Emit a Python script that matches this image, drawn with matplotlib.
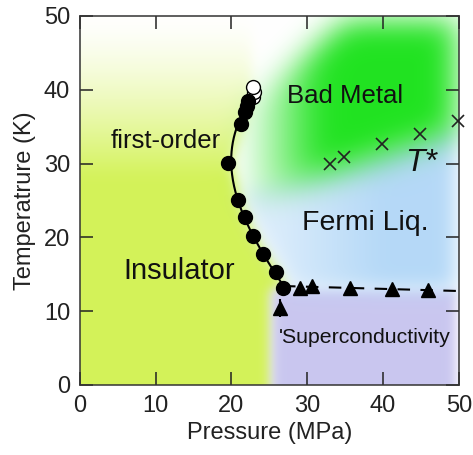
import numpy as np
import matplotlib
matplotlib.use("Agg")
import matplotlib.pyplot as plt

plt.rcParams["font.family"] = ["Liberation Sans", "DejaVu Sans"]

# ---- data (pressure in MPa, temperature in K) ----
first_order_P = [26.8, 25.9, 24.2, 22.8, 21.8, 20.8, 19.6, 21.3, 21.8, 22.0, 22.2]
first_order_T = [13.2, 15.3, 17.8, 20.2, 22.7, 25.0, 30.1, 35.3, 37.0, 37.8, 38.5]
open_P = [22.9, 23.0, 22.8]
open_T = [39.0, 39.7, 40.4]
tc_P = [26.4, 29.0, 30.6, 35.6, 41.2, 45.9]
tc_T = [10.4, 13.2, 13.4, 13.2, 13.0, 12.8]
tc_err = [1.2, 0, 0, 0, 0, 0]
tstar_P = [33.0, 34.8, 39.8, 44.9, 49.9]
tstar_T = [30.0, 30.9, 32.6, 34.0, 35.8]
x_ticks = [0, 10, 20, 30, 40, 50]
y_ticks = [0, 10, 20, 30, 40, 50]

fig = plt.figure(figsize=(4.73, 4.55), dpi=100)
ax = fig.add_axes([0.169, 0.154, 0.801, 0.811])

# ---- soft coloured phase regions ----
step = 0.1
g = np.arange(-5, 55 + step / 2, step)
PP, TT = np.meshgrid(g, g)


def blur(a, sigma):
    s = sigma / step
    r = int(3 * s) + 1
    k = np.exp(-0.5 * (np.arange(-r, r + 1) / s) ** 2)
    k /= k.sum()
    a = np.apply_along_axis(lambda m: np.convolve(m, k, mode="same"), 0, a)
    a = np.apply_along_axis(lambda m: np.convolve(m, k, mode="same"), 1, a)
    return a


order = np.argsort(first_order_T)
curve_P = np.interp(TT, np.array(first_order_T)[order], np.array(first_order_P)[order])
lower_green = 28.5 + 0.34 * (PP - 33.0)
upper_green = np.minimum(38.0 + 0.92 * (PP - 22.8), 49.3)

yellow_edge = np.where(TT < 12.8, 25.3, curve_P + 0.4)
yellow_a = (PP < yellow_edge) * np.clip((50 - TT) / 22, 0.04, 1) ** 1.4
lav_a = ((PP > 25.3) & (TT < 12.8) & (PP < 49.6)).astype(float)
blue_a = ((PP > curve_P + 0.8) & (TT >= 12.8) & (TT < lower_green + 1.5) & (PP < 49.6)) \
    * (0.5 + 0.5 * np.clip((PP - 26) / 14, 0, 1))
green_a = ((TT > lower_green) & (TT < upper_green) & (PP > 21.5) & (PP < 49.6)) \
    * np.clip((PP - 21) / 11, 0, 1)

layers = [
    ((0.83, 0.95, 0.35), blur(yellow_a, 0.8)),
    ((0.79, 0.78, 0.94), blur(lav_a, 0.7)),
    ((0.71, 0.85, 0.97), blur(blue_a, 1.3)),
    ((0.13, 0.89, 0.13), blur(green_a, 2.0)),
]
img = np.ones(PP.shape + (3,))
for col, a in layers:
    a = np.clip(a, 0, 1)[..., None]
    img = img * (1 - a) + np.array(col) * a
ax.imshow(img, origin="lower", extent=[g[0], g[-1], g[0], g[-1]],
          interpolation="bilinear", aspect="auto", zorder=0)

# ---- first-order boundary ----
coef = np.polyfit(first_order_T, first_order_P, 3)
tt = np.linspace(min(first_order_T), max(first_order_T), 200)
ax.plot(np.polyval(coef, tt), tt, color="black", lw=1.5, zorder=3)
ax.plot(first_order_P, first_order_T, "o", color="black", ms=10, zorder=4)
ax.plot(open_P, open_T, "o", mfc="white", mec="black", mew=1.0, ms=10, zorder=3.5)

# ---- superconducting Tc ----
fit = np.polyfit(tc_P[1:], tc_T[1:], 1)
pp = np.array([first_order_P[0], 50.0])
ax.plot(pp, np.polyval(fit, pp), ls=(0, (6, 5)), color="black", lw=1.5, zorder=3)
ax.errorbar(tc_P, tc_T, yerr=tc_err, fmt="^", color="black", ms=10,
            elinewidth=1.5, capsize=0, zorder=4)

# ---- T* crossover ----
ax.plot(tstar_P, tstar_T, "x", color="#222222", ms=9, mew=1.2, zorder=4,
        clip_on=False)

# ---- labels ----
tc = "#111111"
ax.text(4.0, 33.0, "first-order", fontsize=18.5, color=tc, va="center")
ax.text(27.3, 39.2, "Bad Metal", fontsize=18.5, color=tc, va="center")
ax.text(42.9, 30.1, "T*", fontsize=23, style="italic", color=tc, va="center")
ax.text(29.3, 21.9, "Fermi Liq.", fontsize=20.5, color=tc, va="center")
ax.text(5.7, 15.5, "Insulator", fontsize=21, color=tc, va="center")
ax.text(26.3, 6.4, "'Superconductivity", fontsize=15.3, color=tc, va="center")

ax.set_xlim(0, 50)
ax.set_ylim(0, 50)
ax.set_xticks(x_ticks)
ax.set_yticks(y_ticks)
ax.tick_params(direction="in", length=9.5, width=1.1, top=True, right=True,
               labelsize=17, pad=7, colors="#222222")
for s in ax.spines.values():
    s.set_linewidth(1.1)
    s.set_color("#333333")
ax.set_xlabel("Pressure (MPa)", fontsize=17, labelpad=4, color="#222222")
ax.set_ylabel("Temperatrure (K)", fontsize=17, labelpad=6, color="#222222")

fig.savefig("out.png", dpi=100)
